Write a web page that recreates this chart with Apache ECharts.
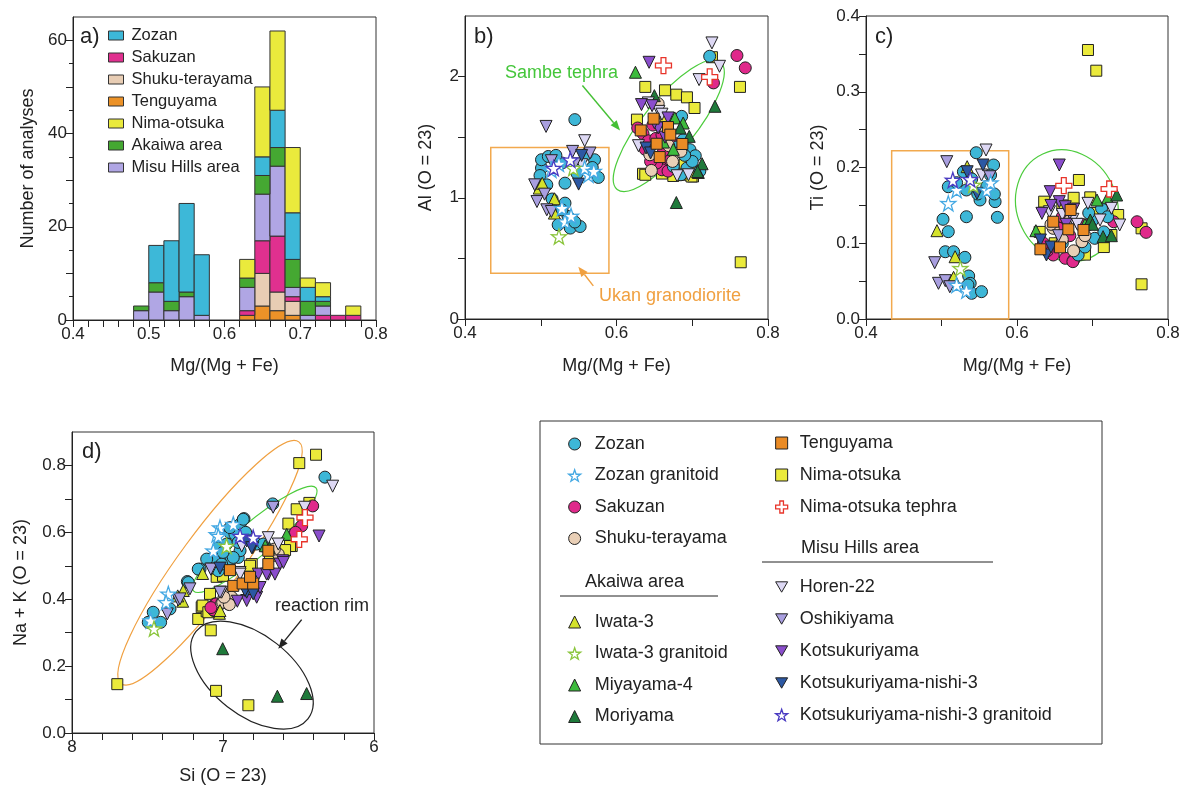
<!DOCTYPE html>
<html>
<head>
<meta charset="utf-8">
<script src="https://cdn.jsdelivr.net/npm/echarts@6/dist/echarts.min.js"></script>
<style>
  html, body { margin: 0; background: #fff; }
  #chart { width: 1186px; height: 791px; }
</style>
</head>
<body>
<div id="chart"></div>
<script>
const FONT = "'Liberation Sans',Arial,sans-serif";

// ---- a) histogram, bins 0.02 wide (stacked bottom -> top)
const binStarts = [0.48, 0.50, 0.52, 0.54, 0.56, 0.58, 0.60, 0.62, 0.64, 0.66, 0.68, 0.70, 0.72, 0.74, 0.76];
const binWidth = 0.02;
const histTenguyama = [0, 0, 0, 0, 0, 0, 0, 1, 3, 2, 1, 0, 0, 0, 0];
const histShuku = [0, 0, 0, 0, 0, 0, 0, 0, 7, 4, 3, 0, 0, 0, 0];
const histSakuzan = [0, 0, 0, 0, 0, 0, 0, 1, 7, 12, 1, 0, 1, 1, 1];
const histMisu = [2, 6, 2, 5, 1, 0, 0, 5, 10, 15, 2, 1, 2, 0, 0];
const histAkaiwa = [1, 2, 2, 1, 0, 0, 0, 2, 4, 4, 6, 3, 1, 0, 0];
const histZozan = [0, 8, 13, 19, 13, 0, 0, 0, 4, 8, 10, 3, 1, 0, 0];
const histNima = [0, 0, 0, 0, 0, 0, 0, 4, 15, 17, 14, 2, 3, 0, 2];

// ---- tick values
const aXTicks = [0.4, 0.42, 0.44, 0.46, 0.48, 0.5, 0.52, 0.54, 0.56, 0.58, 0.6, 0.62, 0.64, 0.66, 0.68, 0.7, 0.72, 0.74, 0.76, 0.78, 0.8];
const aXLabels = [0.4, 0.5, 0.6, 0.7, 0.8];
const aYTicks = [0, 10, 20, 30, 40, 50, 60];
const aYMinor = [5, 15, 25, 35, 45, 55];
const aYLabels = [0, 20, 40, 60];
const mgTicks = [0.4, 0.5, 0.6, 0.7, 0.8];
const mgLabels = [0.4, 0.6, 0.8];
const bYTicks = [0, 0.5, 1, 1.5, 2];
const bYLabels = [0, 1, 2];
const cYTicks = [0, 0.05, 0.1, 0.15, 0.2, 0.25, 0.3, 0.35, 0.4];
const cYLabels = [0, 0.1, 0.2, 0.3, 0.4];
const dXTicks = [6, 6.2, 6.4, 6.6, 6.8, 7, 7.2, 7.4, 7.6, 7.8, 8];
const dXLabels = [6, 7, 8];
const dYTicks = [0, 0.1, 0.2, 0.3, 0.4, 0.5, 0.6, 0.7, 0.8];
const dYLabels = [0, 0.2, 0.4, 0.6, 0.8];

// ---- b) Al vs Mg/(Mg+Fe)
const zozanB = [[0.723,2.168],[0.686,1.672],[0.688,1.479],[0.697,1.397],[0.704,1.347],[0.693,1.245],[0.675,1.259],[0.700,1.300],[0.690,1.350],[0.680,1.420],[0.710,1.220],[0.685,1.190],
  [0.545,1.645],[0.528,1.287],[0.571,1.314],[0.501,1.245],[0.499,1.184],[0.576,1.168],[0.532,1.121],[0.508,1.107],[0.532,0.956],[0.536,0.846],[0.523,0.777],[0.539,0.750],[0.552,0.763],[0.501,1.314],[0.510,1.341],[0.560,1.360],[0.568,1.250],[0.548,1.200],[0.520,1.350],[0.528,0.900],[0.545,0.800],[0.515,0.990]];
const sakuzanB = [[0.759,2.174],[0.770,2.072],[0.728,1.948],[0.628,1.576],[0.664,1.273],[0.660,1.231],[0.653,1.287],[0.635,1.530],[0.642,1.470],[0.648,1.600],[0.652,1.490],[0.662,1.380],[0.671,1.310],[0.668,1.220],[0.645,1.300],[0.638,1.400],[0.676,1.450],[0.660,1.520]];
const shukuB = [[0.655,1.777],[0.644,1.355],[0.677,1.369],[0.685,1.383],[0.646,1.226],[0.669,1.430],[0.661,1.580],[0.674,1.300]];
const tenguyamaB = [[0.649,1.653],[0.632,1.556],[0.668,1.584],[0.671,1.521],[0.653,1.446],[0.687,1.444],[0.657,1.336]];
const nimaB = [[0.726,2.160],[0.763,1.915],[0.638,1.915],[0.664,1.887],[0.679,1.851],[0.693,1.829],[0.703,1.741],[0.764,0.468],[0.627,1.645],[0.646,1.336],[0.635,1.198],[0.688,1.190],[0.701,1.176],[0.690,1.273],[0.660,1.200],[0.675,1.180],[0.700,1.210],[0.640,1.420],[0.665,1.630],[0.638,1.190],[0.699,1.176]];
const miyayamaB = [[0.625,2.036],[0.677,1.659],[0.688,1.617],[0.675,1.400],[0.662,1.460]];
const moriyamaB = [[0.730,1.755],[0.650,1.843],[0.679,0.961],[0.684,1.576],[0.696,1.507],[0.708,1.209],[0.713,1.281],[0.707,1.217]];
const iwataB = [[0.498,1.080],[0.518,0.992],[0.518,0.874],[0.502,1.120]];
const horenB = [[0.726,2.278],[0.736,2.085],[0.709,1.975],[0.642,1.783],[0.656,1.713],[0.629,1.430],[0.680,1.182],[0.695,1.190],[0.558,1.471],[0.554,1.273],[0.660,1.690]];
const oshikiyamaB = [[0.507,1.589],[0.542,1.383],[0.565,1.369],[0.514,1.306],[0.492,1.107],[0.505,1.030],[0.495,0.969],[0.508,0.901],[0.514,0.887],[0.545,1.280]];
const kotsukuriB = [[0.643,2.118],[0.633,1.769],[0.668,1.659],[0.655,1.576],[0.647,1.760],[0.664,1.500],[0.650,1.620]];
const kn3B = [[0.639,1.411],[0.554,1.350],[0.550,1.113],[0.645,1.370]];
const zozanGranB = [[0.514,1.231],[0.563,1.190],[0.558,1.245],[0.528,0.915],[0.532,0.804],[0.570,1.220],[0.540,0.850],[0.524,1.280]];
const iwataGranB = [[0.543,1.245],[0.524,0.680]];
const kn3GranB = [[0.539,1.314],[0.517,1.245]];
const tephraB = [[0.662,2.091],[0.723,1.997]];

// ---- c) Ti vs Mg/(Mg+Fe)
const zozanC = [[0.546,0.2195],[0.569,0.2033],[0.529,0.1944],[0.509,0.1746],[0.533,0.1703],[0.551,0.1571],[0.571,0.1549],[0.502,0.1316],[0.533,0.1350],[0.574,0.1342],[0.509,0.1153],[0.505,0.0888],[0.516,0.0888],[0.531,0.0814],[0.536,0.0568],[0.538,0.0471],[0.540,0.0339],[0.553,0.0361],[0.560,0.1750],[0.565,0.1900],[0.540,0.1850],[0.520,0.1800],[0.548,0.1650],[0.570,0.1650],[0.535,0.0450],
  [0.712,0.1461],[0.703,0.1065],[0.681,0.0845],[0.700,0.1300],[0.715,0.1150],[0.690,0.0950],[0.720,0.1350],[0.660,0.1000],[0.695,0.1400]];
const sakuzanC = [[0.759,0.1284],[0.771,0.1144],[0.728,0.1284],[0.664,0.0801],[0.675,0.0779],[0.648,0.0845],[0.640,0.0900],[0.655,0.1200],[0.670,0.1100],[0.635,0.1000],[0.685,0.1250],[0.660,0.1350],[0.674,0.0757]];
const shukuC = [[0.648,0.1197],[0.686,0.1020],[0.670,0.1300],[0.660,0.1050],[0.690,0.1100],[0.675,0.0900],[0.645,0.1250]];
const tenguyamaC = [[0.671,0.1439],[0.648,0.1284],[0.668,0.1184],[0.688,0.1175],[0.631,0.0920],[0.657,0.0946]];
const nimaC = [[0.694,0.3551],[0.705,0.3278],[0.765,0.0458],[0.765,0.1197],[0.682,0.1835],[0.636,0.1549],[0.697,0.1606],[0.725,0.1109],[0.688,0.0888],[0.675,0.1600],[0.660,0.1500],[0.630,0.1150],[0.700,0.1400],[0.734,0.1373],[0.650,0.1000],[0.690,0.0850],[0.715,0.0950]];
const miyayamaC = [[0.706,0.1571],[0.625,0.1166],[0.690,0.1250],[0.720,0.1600]];
const moriyamaC = [[0.732,0.1637],[0.697,0.1307],[0.714,0.1087],[0.725,0.1100],[0.700,0.1250]];
const iwataC = [[0.534,0.2011],[0.494,0.1166],[0.518,0.0822],[0.516,0.0550]];
const horenC = [[0.559,0.2231],[0.553,0.1901],[0.736,0.1241],[0.694,0.1527],[0.643,0.1416],[0.674,0.1316],[0.710,0.1307],[0.725,0.1461],[0.680,0.1250],[0.660,0.1380]];
const oshikiyamaC = [[0.507,0.2077],[0.564,0.1878],[0.491,0.0743],[0.496,0.0471],[0.505,0.0506],[0.511,0.0426],[0.655,0.1100],[0.670,0.1400]];
const kotsukuriC = [[0.656,0.2033],[0.644,0.1681],[0.656,0.1549],[0.633,0.1395],[0.664,0.1482],[0.645,0.1500],[0.675,0.1450],[0.665,0.1250]];
const kn3C = [[0.555,0.2033],[0.534,0.1944],[0.547,0.1659],[0.631,0.1043],[0.639,0.0845],[0.645,0.0950]];
const zozanGranC = [[0.520,0.1703],[0.560,0.1703],[0.509,0.1527],[0.533,0.0374],[0.565,0.1800],[0.520,0.0450]];
const iwataGranC = [[0.542,0.1769],[0.525,0.0669]];
const kn3GranC = [[0.515,0.1835],[0.538,0.1844]];
const tephraC = [[0.662,0.1760],[0.722,0.1716]];

// ---- d) Na+K vs Si
const zozanD = [[6.325,0.765],[6.671,0.685],[6.861,0.641],[6.887,0.624],[6.954,0.599],[6.733,0.559],[6.899,0.525],[6.954,0.515],[7.020,0.515],[7.086,0.515],[7.152,0.490],[7.031,0.485],[6.887,0.545],[6.921,0.594],[6.866,0.639],[6.954,0.614],[6.976,0.565],[7.031,0.554],[7.064,0.525],[7.108,0.520],[6.932,0.525],[7.009,0.505],[6.777,0.565],[6.733,0.565],[7.236,0.453],[7.351,0.371],[7.462,0.361],[7.495,0.331],[7.413,0.331],[7.230,0.450],[7.164,0.490],[6.850,0.600],[6.900,0.570],[7.000,0.540]];
const sakuzanD = [[6.406,0.679],[6.479,0.619],[7.053,0.386],[7.060,0.366],[7.064,0.368],[7.046,0.386],[6.520,0.600],[7.080,0.375]];
const shukuD = [[6.634,0.535],[6.987,0.411],[6.943,0.406],[6.965,0.386],[7.009,0.388],[7.002,0.391],[6.958,0.384],[6.993,0.406],[6.660,0.550]];
const tenguyamaD = [[6.932,0.440],[6.870,0.447],[6.800,0.447],[6.954,0.487],[6.821,0.467],[6.700,0.505],[6.700,0.545]];
const nimaD = [[7.700,0.146],[6.495,0.807],[6.384,0.832],[7.081,0.307],[7.046,0.126],[6.832,0.083],[6.428,0.688],[6.512,0.669],[6.567,0.626],[6.545,0.559],[7.042,0.467],[7.086,0.416],[7.141,0.376],[7.164,0.341],[7.108,0.364],[7.135,0.381],[7.097,0.361],[6.810,0.505],[6.556,0.559],[6.689,0.530],[6.589,0.547],[6.821,0.500],[7.000,0.470]];
const iwataD = [[7.135,0.477],[7.263,0.426],[7.267,0.394],[7.024,0.358],[7.020,0.366],[7.300,0.410]];
const miyayamaD = [[6.578,0.594],[6.720,0.560]];
const moriyamaD = [[7.002,0.252],[6.640,0.110],[6.446,0.118],[6.693,0.554]];
const horenD = [[6.274,0.738],[6.876,0.559],[6.700,0.584],[6.634,0.565],[6.887,0.480],[7.009,0.421],[6.887,0.475],[7.075,0.490],[6.460,0.675]];
const oshikiyamaD = [[6.668,0.675],[7.081,0.490],[7.219,0.431],[7.296,0.398],[7.369,0.356],[7.285,0.401],[7.020,0.421]];
const kotsukuriD = [[6.364,0.589],[6.605,0.515],[6.766,0.475],[6.700,0.475],[6.623,0.505],[6.843,0.396],[6.777,0.406],[6.905,0.394],[6.755,0.435],[6.711,0.475],[6.656,0.475],[6.600,0.510]];
const kn3D = [[6.843,0.574],[6.803,0.554],[7.020,0.493],[6.843,0.421],[6.854,0.426],[6.800,0.416],[6.810,0.554]];
const zozanGranD = [[7.020,0.614],[7.042,0.594],[7.362,0.416],[7.377,0.391],[7.479,0.336],[7.031,0.589],[7.064,0.545],[6.932,0.624]];
const iwataGranD = [[6.976,0.559],[7.457,0.312]];
const kn3GranD = [[6.887,0.589],[6.800,0.584]];
const tephraD = [[6.457,0.644],[6.495,0.579]];

// ---- annotations (data coordinates)
const ukanBoxB = [[0.434, 0.378], [0.590, 1.416]];
const ukanBoxC = [[0.434, 0], [0.589, 0.222]];
const sambeCenterB = [0.669, 1.595];
const sambeCenterC = [0.666, 0.1496];
const ukanCenterD = [7.086, 0.509];
const sambeCenterD = [6.790, 0.579];
const rimCenterD = [6.808, 0.173];
const sambeArrowB = [[0.555, 1.926], [0.6047, 1.556]];
const ukanArrowB = [[0.5694, 0.273], [0.5496, 0.432]];
const rimArrowD = [[6.479, 0.339], [6.634, 0.252]];
const sambeLabelB = [0.4528, 2.033];
const ukanLabelB = [0.5769, 0.190];
const rimLabelD = [6.656, 0.381];

const STAR = 'path://M50,0L61.8,35.1L97.6,34.5L68.8,56.7L79.4,90.5L50,70.5L20.6,90.5L31.2,56.7L2.4,34.5L38.2,35.1Z';
const CROSS = 'path://M35,0H65V35H100V65H65V100H35V65H0V35H35Z';
const INV = 'path://M0,0L20,0L10,17.3Z';

const histColors = {
  'Tenguyama': '#ec9228', 'Shuku-terayama': '#e8cdb4', 'Sakuzan': '#e0308f', 'Misu Hills area': '#b0a6e4',
  'Akaiwa area': '#45a832', 'Zozan': '#3db8d8', 'Nima-otsuka': '#eaea3c'
};
const histStack = [
  ['Tenguyama', histTenguyama], ['Shuku-terayama', histShuku], ['Sakuzan', histSakuzan], ['Misu Hills area', histMisu],
  ['Akaiwa area', histAkaiwa], ['Zozan', histZozan], ['Nima-otsuka', histNima]
];

const styles = {
  'Zozan': { symbol: 'circle', size: 12, color: '#3db7d7' },
  'Zozan granitoid': { symbol: STAR, size: 15, color: '#fff', border: '#45a9e3' },
  'Sakuzan': { symbol: 'circle', size: 12, color: '#e0298b' },
  'Shuku-terayama': { symbol: 'circle', size: 12, color: '#e9cfb6' },
  'Iwata-3': { symbol: 'triangle', size: 12, color: '#d4e22b' },
  'Iwata-3 granitoid': { symbol: STAR, size: 15, color: '#fff', border: '#8cc63f' },
  'Miyayama-4': { symbol: 'triangle', size: 12, color: '#3dbb3d' },
  'Moriyama': { symbol: 'triangle', size: 12, color: '#1f7a3b' },
  'Tenguyama': { symbol: 'rect', size: 11, color: '#ea8b25' },
  'Nima-otsuka': { symbol: 'rect', size: 11, color: '#ebea3b' },
  'Nima-otsuka tephra': { symbol: CROSS, size: 16, color: '#fff', border: '#e8342a' },
  'Horen-22': { symbol: INV, size: 12, color: '#ddd8f4' },
  'Oshikiyama': { symbol: INV, size: 12, color: '#a99fe0' },
  'Kotsukuriyama': { symbol: INV, size: 12, color: '#8a4dcc' },
  'Kotsukuriyama-nishi-3': { symbol: INV, size: 12, color: '#2c58a3' },
  'Kotsukuriyama-nishi-3 granitoid': { symbol: STAR, size: 15, color: '#fff', border: '#4a3bc2' }
};

// draw order (bottom -> top)
const scatterOrder = ['Nima-otsuka', 'Sakuzan', 'Zozan', 'Shuku-terayama', 'Miyayama-4', 'Moriyama', 'Iwata-3', 'Horen-22',
  'Oshikiyama', 'Kotsukuriyama', 'Kotsukuriyama-nishi-3', 'Tenguyama', 'Zozan granitoid', 'Iwata-3 granitoid',
  'Kotsukuriyama-nishi-3 granitoid', 'Nima-otsuka tephra'];

const panelB = {
  'Zozan': zozanB, 'Sakuzan': sakuzanB, 'Shuku-terayama': shukuB, 'Tenguyama': tenguyamaB, 'Nima-otsuka': nimaB,
  'Miyayama-4': miyayamaB, 'Moriyama': moriyamaB, 'Iwata-3': iwataB, 'Horen-22': horenB, 'Oshikiyama': oshikiyamaB,
  'Kotsukuriyama': kotsukuriB, 'Kotsukuriyama-nishi-3': kn3B, 'Zozan granitoid': zozanGranB,
  'Iwata-3 granitoid': iwataGranB, 'Kotsukuriyama-nishi-3 granitoid': kn3GranB, 'Nima-otsuka tephra': tephraB
};
const panelC = {
  'Zozan': zozanC, 'Sakuzan': sakuzanC, 'Shuku-terayama': shukuC, 'Tenguyama': tenguyamaC, 'Nima-otsuka': nimaC,
  'Miyayama-4': miyayamaC, 'Moriyama': moriyamaC, 'Iwata-3': iwataC, 'Horen-22': horenC, 'Oshikiyama': oshikiyamaC,
  'Kotsukuriyama': kotsukuriC, 'Kotsukuriyama-nishi-3': kn3C, 'Zozan granitoid': zozanGranC,
  'Iwata-3 granitoid': iwataGranC, 'Kotsukuriyama-nishi-3 granitoid': kn3GranC, 'Nima-otsuka tephra': tephraC
};
const panelD = {
  'Zozan': zozanD, 'Sakuzan': sakuzanD, 'Shuku-terayama': shukuD, 'Tenguyama': tenguyamaD, 'Nima-otsuka': nimaD,
  'Miyayama-4': miyayamaD, 'Moriyama': moriyamaD, 'Iwata-3': iwataD, 'Horen-22': horenD, 'Oshikiyama': oshikiyamaD,
  'Kotsukuriyama': kotsukuriD, 'Kotsukuriyama-nishi-3': kn3D, 'Zozan granitoid': zozanGranD,
  'Iwata-3 granitoid': iwataGranD, 'Kotsukuriyama-nishi-3 granitoid': kn3GranD, 'Nima-otsuka tephra': tephraD
};

const chart = echarts.init(document.getElementById('chart'), null, { renderer: 'canvas' });

function axis(opt) {
  return Object.assign({
    type: 'value',
    axisLine: { show: true, onZero: false, lineStyle: { color: '#222', width: 1 } },
    splitLine: { show: false },
    axisTick: { show: true, length: 7, lineStyle: { color: '#222' }, customValues: opt.ticks },
    axisLabel: {
      show: true, customValues: opt.labels, margin: 6, color: '#222', fontFamily: FONT, fontSize: 17,
      formatter: opt.fmt
    },
    nameLocation: 'middle',
    nameTextStyle: { fontFamily: FONT, fontSize: 18, color: '#222' }
  }, opt.extra);
}
function minorAxis(opt) {
  return Object.assign({
    type: 'value', position: 'left', axisLine: { show: false }, splitLine: { show: false }, axisLabel: { show: false },
    axisTick: { show: true, length: 4, lineStyle: { color: '#222' }, customValues: opt.ticks }
  }, opt.extra);
}
const fix1 = v => Number(v).toFixed(1);
const plain = v => String(Math.round(v * 1000) / 1000);

// ---- histogram series (custom rects through the axes)
const histSeries = [];
histStack.forEach(([name, vals], gi) => {
  const data = [];
  binStarts.forEach((x0, i) => {
    if (!vals[i]) return;
    let base = 0;
    for (let k = 0; k < gi; k++) base += histStack[k][1][i];
    data.push([x0, x0 + binWidth, base, base + vals[i]]);
  });
  histSeries.push({
    type: 'custom', name, xAxisIndex: 0, yAxisIndex: 0, z: 2, silent: true,
    itemStyle: { color: histColors[name], borderColor: '#333', borderWidth: 1 },
    encode: { x: [0, 1], y: [2, 3] },
    data,
    renderItem(params, api) {
      const p0 = api.coord([api.value(0), api.value(3)]);
      const p1 = api.coord([api.value(1), api.value(2)]);
      return {
        type: 'rect',
        shape: { x: p0[0], y: p0[1], width: p1[0] - p0[0], height: p1[1] - p0[1] },
        style: { fill: histColors[name], stroke: '#333', lineWidth: 1 }
      };
    }
  });
});

// ---- scatter series
function scatterFor(panel, axisIdx) {
  return scatterOrder.map(name => {
    const s = styles[name];
    return {
      type: 'scatter', name, xAxisIndex: axisIdx, yAxisIndex: axisIdx, z: 3, silent: true,
      symbol: s.symbol, symbolSize: s.size,
      itemStyle: { color: s.color, borderColor: s.border || '#222', borderWidth: s.border ? 1.3 : 1, opacity: 1 },
      data: panel[name]
    };
  });
}

// ---- annotation helpers
function ellipseEl(api, c, rx, ry, deg, color) {
  const p = api.coord(c);
  return {
    type: 'ellipse', x: p[0], y: p[1], rotation: deg * Math.PI / 180,
    shape: { cx: 0, cy: 0, rx, ry }, style: { fill: 'none', stroke: color, lineWidth: 1.2 }
  };
}
function rectEl(api, box, color) {
  const p0 = api.coord([box[0][0], box[1][1]]);
  const p1 = api.coord([box[1][0], box[0][1]]);
  return {
    type: 'rect', shape: { x: p0[0], y: p0[1], width: p1[0] - p0[0], height: p1[1] - p0[1] },
    style: { fill: 'none', stroke: color, lineWidth: 1.5 }
  };
}
function arrowEls(api, seg, color) {
  const p0 = api.coord(seg[0]), p1 = api.coord(seg[1]);
  const dx = p1[0] - p0[0], dy = p1[1] - p0[1], L = Math.hypot(dx, dy);
  const ux = dx / L, uy = dy / L, hl = 10, hw = 4;
  const bx = p1[0] - ux * hl, by = p1[1] - uy * hl;
  return [
    { type: 'line', shape: { x1: p0[0], y1: p0[1], x2: bx, y2: by }, style: { stroke: color, lineWidth: 1.4 } },
    { type: 'polygon', shape: { points: [[p1[0], p1[1]], [bx - uy * hw, by + ux * hw], [bx + uy * hw, by - ux * hw]] }, style: { fill: color } }
  ];
}
function textEl(api, at, text, color) {
  const p = api.coord(at);
  return {
    type: 'text', x: p[0], y: p[1],
    style: { text, fill: color, font: '18px ' + FONT, align: 'left', verticalAlign: 'middle' }
  };
}
function annotation(axisIdx, anchor, build) {
  return {
    type: 'custom', xAxisIndex: axisIdx, yAxisIndex: axisIdx, z: 1, silent: true, clip: false,
    data: [anchor],
    renderItem(params, api) { return { type: 'group', children: build(api) }; }
  };
}

const annB = annotation(1, [0.5, 1], api => [
  rectEl(api, ukanBoxB, '#f2a94e'),
  ellipseEl(api, sambeCenterB, 82, 26, 51, '#4ccc3c'),
  ...arrowEls(api, sambeArrowB, '#44c034'),
  ...arrowEls(api, ukanArrowB, '#f0a040'),
  textEl(api, sambeLabelB, 'Sambe tephra', '#44c63a'),
  textEl(api, ukanLabelB, 'Ukan granodiorite', '#f0a040')
]);
const annC = annotation(2, [0.5, 0.1], api => [
  rectEl(api, ukanBoxC, '#f2a94e'),
  ellipseEl(api, sambeCenterC, 57, 50, -65, '#4ccc3c')
]);
const annD = annotation(3, [7, 0.4], api => [
  ellipseEl(api, ukanCenterD, 150, 30, 53.7, '#f0a040'),
  ellipseEl(api, sambeCenterD, 80, 17, 40, '#4ccc3c'),
  ellipseEl(api, rimCenterD, 71, 40, -38, '#222'),
  ...arrowEls(api, rimArrowD, '#222'),
  textEl(api, rimLabelD, 'reaction rim', '#222')
]);

// ---- legends
const legendText = { fontFamily: FONT, fontSize: 18, color: '#222', lineHeight: 20 };
function legendItem(name) {
  const s = styles[name];
  return {
    name, icon: s.symbol,
    itemStyle: { color: s.color, borderColor: s.border || '#222', borderWidth: s.border ? 1.3 : 1 }
  };
}
function scatterLegend(names, left, top, gap, pad) {
  return {
    show: true, orient: 'vertical', left, top, itemGap: gap, itemWidth: 12, itemHeight: 12,
    selectedMode: false, padding: 0,
    textStyle: Object.assign({ padding: [0, 0, 0, pad] }, legendText),
    data: names.map(legendItem)
  };
}

const option = {
  animation: false,
  backgroundColor: '#fff',
  textStyle: { fontFamily: FONT },
  grid: [
    { left: 73, top: 17, width: 303, height: 303, show: true, borderColor: '#333', borderWidth: 1, backgroundColor: 'transparent' },
    { left: 465, top: 16, width: 303, height: 303, show: true, borderColor: '#333', borderWidth: 1, backgroundColor: 'transparent' },
    { left: 866, top: 16, width: 302, height: 303, show: true, borderColor: '#333', borderWidth: 1, backgroundColor: 'transparent' },
    { left: 72, top: 432, width: 302, height: 301, show: true, borderColor: '#333', borderWidth: 1, backgroundColor: 'transparent' }
  ],
  xAxis: [
    axis({ ticks: aXTicks, labels: aXLabels, fmt: fix1, extra: { gridIndex: 0, min: 0.4, max: 0.8, name: 'Mg/(Mg + Fe)', nameGap: 37 } }),
    axis({ ticks: mgTicks, labels: mgLabels, fmt: fix1, extra: { gridIndex: 1, min: 0.4, max: 0.8, name: 'Mg/(Mg + Fe)', nameGap: 38 } }),
    axis({ ticks: mgTicks, labels: mgLabels, fmt: fix1, extra: { gridIndex: 2, min: 0.4, max: 0.8, name: 'Mg/(Mg + Fe)', nameGap: 38 } }),
    axis({ ticks: dXTicks, labels: dXLabels, fmt: plain, extra: { gridIndex: 3, min: 6, max: 8, inverse: true, name: 'Si (O = 23)', nameGap: 34 } })
  ],
  yAxis: [
    axis({ ticks: aYTicks, labels: aYLabels, fmt: plain, extra: { gridIndex: 0, min: 0, max: 65, name: 'Number of analyses', nameGap: 36 } }),
    axis({ ticks: bYTicks, labels: bYLabels, fmt: plain, extra: { gridIndex: 1, min: 0, max: 2.5, name: 'Al (O = 23)', nameGap: 30 } }),
    axis({ ticks: cYTicks, labels: cYLabels, fmt: fix1, extra: { gridIndex: 2, min: 0, max: 0.4, name: 'Ti (O = 23)', nameGap: 39 } }),
    axis({ ticks: dYTicks, labels: dYLabels, fmt: fix1, extra: { gridIndex: 3, min: 0, max: 0.9, name: 'Na + K (O = 23)', nameGap: 42 } }),
    minorAxis({ ticks: aYMinor, extra: { gridIndex: 0, min: 0, max: 65 } })
  ],
  legend: [
    {
      show: true, orient: 'vertical', left: 108, top: 26, itemGap: 3, itemWidth: 15, itemHeight: 9,
      selectedMode: false, padding: 0,
      textStyle: { fontFamily: FONT, fontSize: 16.5, color: '#222', lineHeight: 19, padding: [0, 0, 0, 3] },
      data: ['Zozan', 'Sakuzan', 'Shuku-terayama', 'Tenguyama', 'Nima-otsuka', 'Akaiwa area', 'Misu Hills area'].map(n => ({
        name: n, icon: 'rect', itemStyle: { color: histColors[n], borderColor: '#333', borderWidth: 1 }
      }))
    },
    scatterLegend(['Zozan', 'Zozan granitoid', 'Sakuzan', 'Shuku-terayama'], 568, 434, 11.5, 9),
    scatterLegend(['Iwata-3', 'Iwata-3 granitoid', 'Miyayama-4', 'Moriyama'], 568, 612, 11.5, 9),
    scatterLegend(['Tenguyama', 'Nima-otsuka', 'Nima-otsuka tephra'], 775, 433, 12, 7),
    scatterLegend(['Horen-22', 'Oshikiyama', 'Kotsukuriyama', 'Kotsukuriyama-nishi-3', 'Kotsukuriyama-nishi-3 granitoid'], 775, 577, 12, 7)
  ],
  graphic: [
    { type: 'text', left: 80, top: 26, style: { text: 'a)', font: '22px ' + FONT, fill: '#222' } },
    { type: 'text', left: 474, top: 26, style: { text: 'b)', font: '22px ' + FONT, fill: '#222' } },
    { type: 'text', left: 875, top: 26, style: { text: 'c)', font: '22px ' + FONT, fill: '#222' } },
    { type: 'text', left: 82, top: 441, style: { text: 'd)', font: '22px ' + FONT, fill: '#222' } },
    { type: 'rect', shape: { x: 540, y: 421, width: 562, height: 323 }, style: { fill: 'none', stroke: '#333', lineWidth: 1 } },
    { type: 'text', x: 585, y: 582, style: { text: 'Akaiwa area', font: '18px ' + FONT, fill: '#222', verticalAlign: 'middle' } },
    { type: 'line', shape: { x1: 560, y1: 596, x2: 718, y2: 596 }, style: { stroke: '#222', lineWidth: 1 } },
    { type: 'text', x: 801, y: 548, style: { text: 'Misu Hills area', font: '18px ' + FONT, fill: '#222', verticalAlign: 'middle' } },
    { type: 'line', shape: { x1: 762, y1: 562, x2: 993, y2: 562 }, style: { stroke: '#222', lineWidth: 1 } }
  ],
  series: [
    ...histSeries,
    annB, annC, annD,
    ...scatterFor(panelB, 1),
    ...scatterFor(panelC, 2),
    ...scatterFor(panelD, 3)
  ]
};

chart.setOption(option);
window.addEventListener('resize', chart.resize);
</script>
</body>
</html>
